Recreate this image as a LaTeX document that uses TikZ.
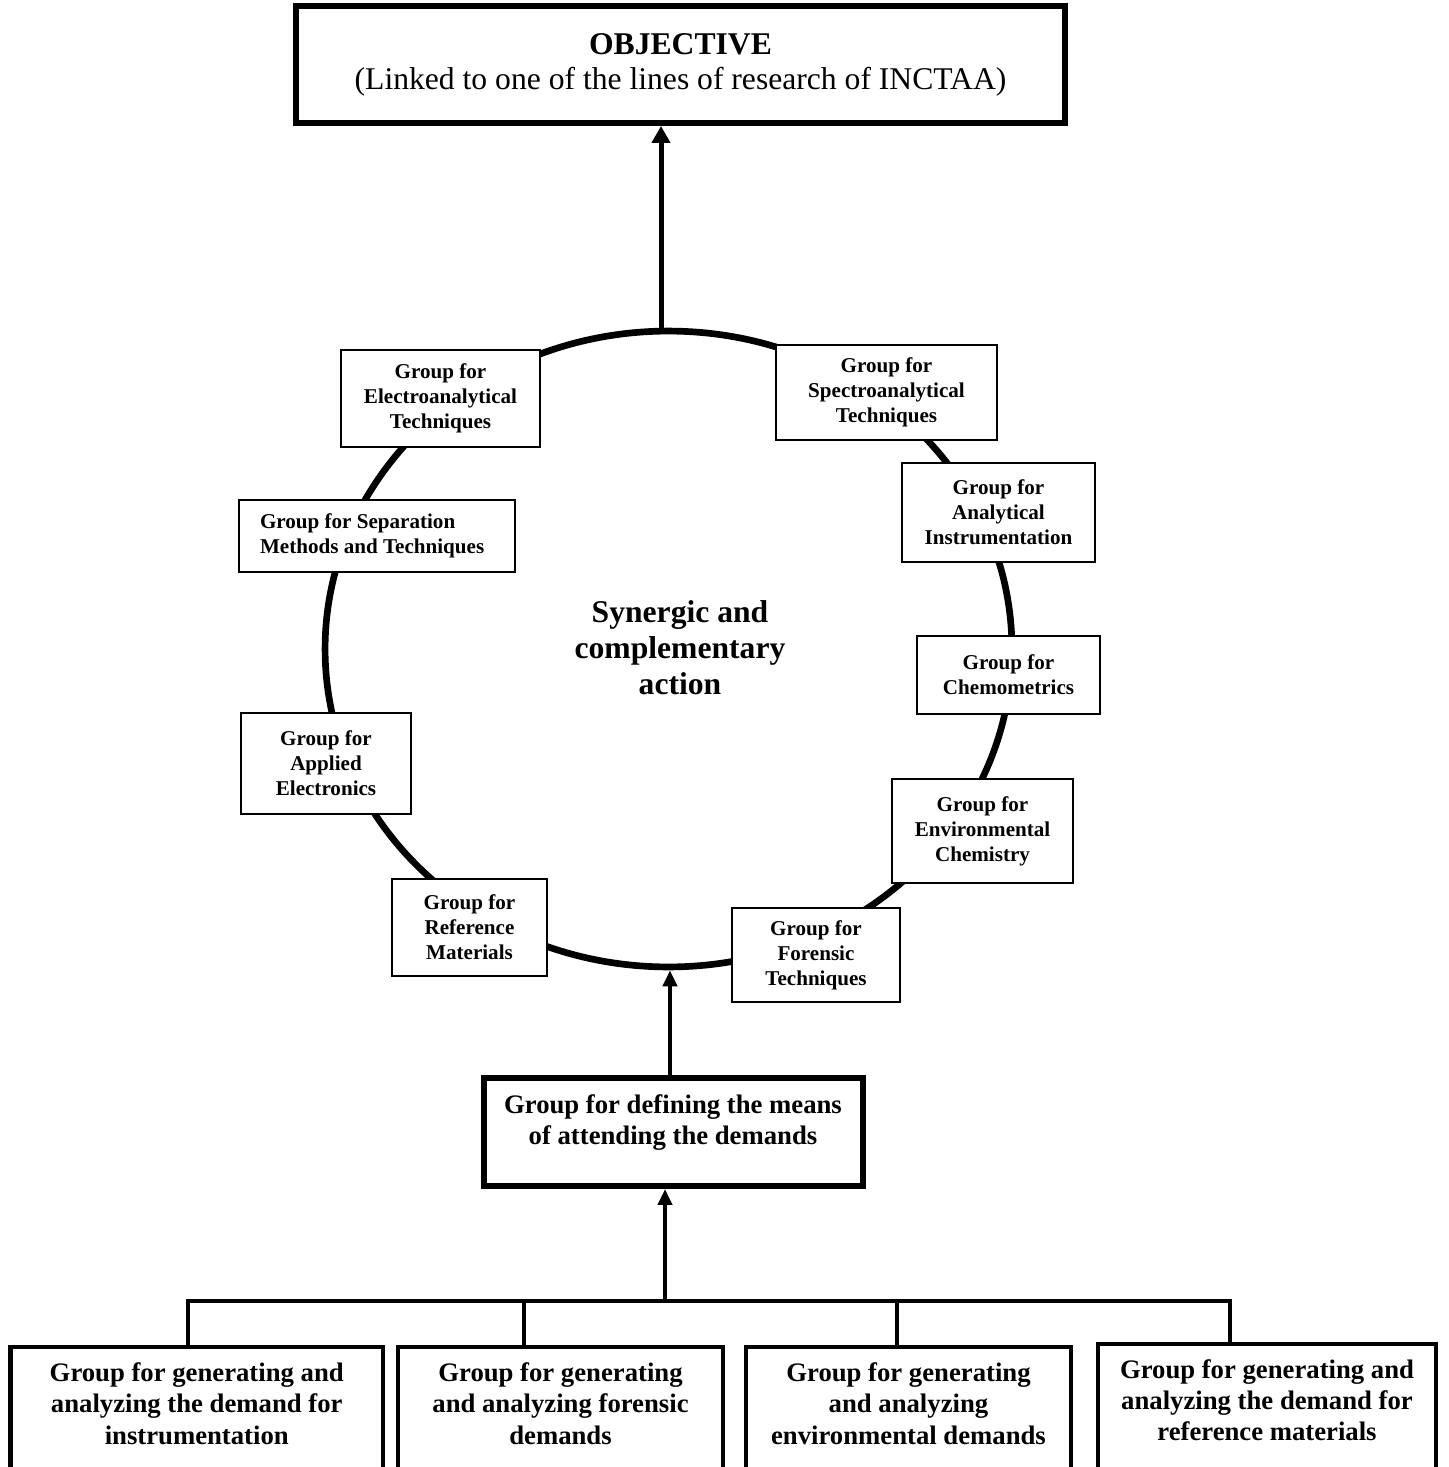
\documentclass[tikz,border=0pt]{standalone}
\usepackage{fontspec}
\setmainfont{Liberation Serif}
\usetikzlibrary{arrows.meta,shapes.geometric}
\begin{document}
\begin{tikzpicture}[x=0.02cm,y=-0.02cm,
  smallbox/.style={draw, line width=1.1pt, fill=white, inner sep=0pt, align=center,
    font=\fontsize{12}{14.2}\selectfont\bfseries},
  bigbox/.style={draw, line width=3.4pt, fill=white, inner sep=0pt, align=center},
  botbox/.style={draw, line width=2.4pt, fill=white, inner sep=0pt, anchor=north},
  bottext/.style={align=center, inner sep=0pt, font=\fontsize{15.2}{17.8}\selectfont\bfseries},
  ringstyle/.style={draw, ellipse, line width=3.8pt, inner sep=0pt},
  arrtop/.style={line width=2.85pt, -{Triangle[length=0.34cm, width=0.36cm]}},
  arrbot/.style={line width=2.3pt, -{Triangle[length=0.32cm, width=0.28cm]}},
  tree/.style={line width=1.8pt, line cap=rect}
]
\useasboundingbox (0,0) rectangle (1448,1467);
\clip (0,0) rectangle (1448,1467);

% ring
\node[ringstyle, minimum width=13.74cm, minimum height=12.72cm] (ring) at (668.5,649) {};

% objective
\node[bigbox, minimum width=15.38cm, minimum height=2.34cm,
  font=\fontsize{18}{20}\selectfont] (obj) at (680.5,64.5)
  {\textbf{OBJECTIVE}\\(Linked to one of the lines of research of INCTAA)};

\draw[arrtop] ([xshift=-0.15cm]ring.north) -- ([xshift=-0.15cm]ring.north |- obj.south);

% small group boxes
\node[smallbox, minimum width=3.98cm, minimum height=1.94cm] (electro) at (440.5,398.5)
  {Group for\\Electroanalytical\\Techniques};
\node[smallbox, minimum width=4.42cm, minimum height=1.90cm] (spectro) at (886.5,392.5)
  {Group for\\Spectroanalytical\\Techniques};
\node[smallbox, minimum width=3.86cm, minimum height=1.98cm] (instr) at (998.5,512.5)
  {Group for\\Analytical\\Instrumentation};
\node[smallbox, align=flush left, inner xsep=0.42cm, text width=4.68cm, minimum height=1.44cm] (sep) at (377,536)
  {Group for Separation\\Methods and Techniques};
\node[smallbox, minimum width=3.66cm, minimum height=1.56cm] (chemo) at (1008.5,675)
  {Group for\\Chemometrics};
\node[smallbox, minimum width=3.40cm, minimum height=2.02cm] (elec) at (326,763.5)
  {Group for\\Applied\\Electronics};
\node[smallbox, minimum width=3.62cm, minimum height=2.08cm] (env) at (982.5,831)
  {Group for\\Environmental\\Chemistry};
\node[smallbox, minimum width=3.10cm, minimum height=1.94cm] (refm) at (469.5,927.5)
  {Group for\\Reference\\Materials};
\node[smallbox, minimum width=3.36cm, minimum height=1.88cm] (foren) at (816,955)
  {Group for\\Forensic\\Techniques};

% centre text
\node[align=center, inner sep=0pt, font=\fontsize{18}{20.5}\selectfont\bfseries] (syn) at (680,648)
  {Synergic and\\complementary\\action};

% defining box
\node[bigbox, minimum width=7.58cm, minimum height=2.16cm] (def) at (673.5,1132) {};
\node[bottext] (deft) at (673,1122.5) {Group for defining the means\\of attending the demands};
\draw[arrbot] ([xshift=-0.07cm]def.north) -- ([xshift=-0.07cm]def.north |- ring.south);

% bottom boxes
\node[botbox, minimum width=7.45cm, minimum height=3.4cm] (b1) at (196.75,1345) {};
\node[botbox, minimum width=6.5cm, minimum height=3.4cm] (b2) at (560.5,1345) {};
\node[botbox, minimum width=6.5cm, minimum height=3.4cm] (b3) at (908.5,1345) {};
\node[botbox, minimum width=6.76cm, minimum height=3.4cm] (b4) at (1267,1342) {};
\node[bottext] (b1t) at (196.75,1403.5) {Group for generating and\\analyzing the demand for\\instrumentation};
\node[bottext] (b2t) at (560.5,1403.5) {Group for generating\\and analyzing forensic\\demands};
\node[bottext] (b3t) at (908.5,1403.5) {Group for generating\\and analyzing\\environmental demands};
\node[bottext] (b4t) at (1267,1400) {Group for generating and\\analyzing the demand for\\reference materials};

% tree connectors
\coordinate (j) at (665,1301);
\coordinate (t1) at (188,1301);
\coordinate (t2) at (524,1301);
\coordinate (t3) at (897,1301);
\coordinate (t4) at (1230,1301);
\draw[tree] (t1 |- b1.north) -- (t1) -- (t4) -- (t4 |- b4.north);
\draw[tree] (t2) -- (t2 |- b2.north);
\draw[tree] (t3) -- (t3 |- b3.north);
\draw[arrbot] (j) -- (j |- def.south);
\end{tikzpicture}
\end{document}
